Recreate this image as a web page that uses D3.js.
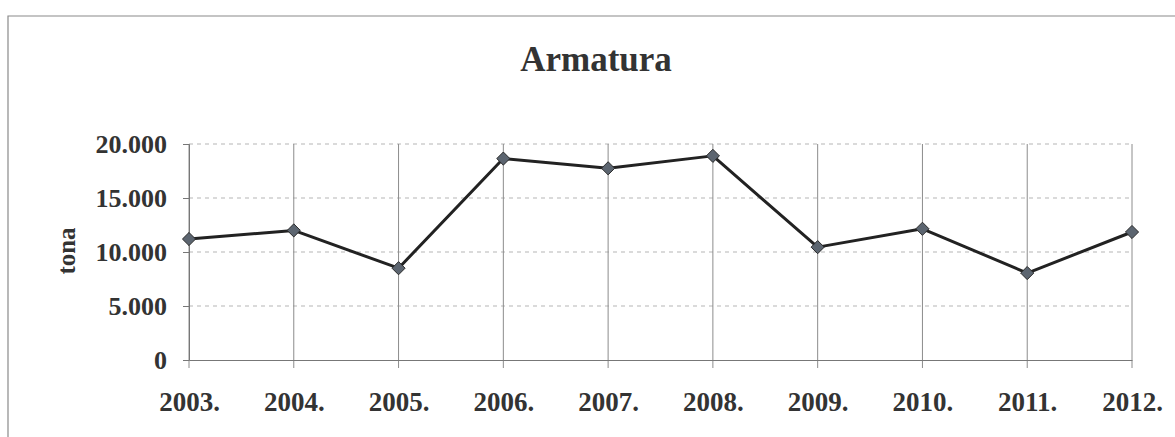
<!DOCTYPE html>
<html>
<head>
<meta charset="utf-8">
<script src="https://cdn.jsdelivr.net/npm/d3@7"></script>
<style>
  body { margin: 0; background: #fff; }
  svg { display: block; }
</style>
</head>
<body>
<svg id="chart"></svg>
<script>
// data
const years = ["2003.", "2004.", "2005.", "2006.", "2007.", "2008.", "2009.", "2010.", "2011.", "2012."];
const tonnes = [11200, 12000, 8500, 18650, 17750, 18900, 10450, 12150, 8050, 11850];
const yTicks = [0, 5000, 10000, 15000, 20000];

const width = 1175;
const height = 437;
const margin = { top: 144, right: 43, bottom: 77, left: 189 };
const font = "'Liberation Serif', 'Times New Roman', serif";

const svg = d3.select("#chart")
  .attr("width", width)
  .attr("height", height);

// frame of the chart area
svg.append("path")
  .attr("d", `M8,${height} V16 H${width}`)
  .attr("fill", "none")
  .attr("stroke", "#8a8a8a")
  .attr("stroke-width", 1.2);

const x = d3.scalePoint()
  .domain(years)
  .range([margin.left, width - margin.right]);

const y = d3.scaleLinear()
  .domain([0, 20000])
  .range([height - margin.bottom, margin.top]);

const fmt = d3.formatLocale({ decimal: ",", thousands: ".", grouping: [3], currency: ["", ""] }).format(",");

// horizontal dashed grid
svg.append("g")
  .selectAll("line")
  .data(yTicks.filter(d => d > 0))
  .join("line")
  .attr("x1", margin.left)
  .attr("x2", width - margin.right)
  .attr("y1", d => y(d))
  .attr("y2", d => y(d))
  .attr("stroke", "#b5b5b5")
  .attr("stroke-dasharray", "4,4");

// vertical grid lines, running a little below the axis like ticks
svg.append("g")
  .selectAll("line")
  .data(years)
  .join("line")
  .attr("x1", d => x(d))
  .attr("x2", d => x(d))
  .attr("y1", y(20000))
  .attr("y2", y(0) + 8)
  .attr("stroke", "#8c8c8c")
  .attr("stroke-width", 1);

// y axis
const yAxis = svg.append("g")
  .attr("transform", `translate(${margin.left},0)`)
  .call(d3.axisLeft(y).tickValues(yTicks).tickFormat(fmt).tickSize(6).tickPadding(16));
yAxis.select(".domain").attr("stroke", "#777");
yAxis.selectAll(".tick line").attr("stroke", "#777");
yAxis.selectAll("text")
  .attr("font-family", font)
  .attr("font-weight", "bold")
  .attr("font-size", 26)
  .attr("fill", "#333");

// x axis
const xAxis = svg.append("g")
  .attr("transform", `translate(0,${y(0)})`)
  .call(d3.axisBottom(x).tickSize(0).tickPadding(32));
xAxis.select(".domain").attr("stroke", "#777");
xAxis.selectAll("text")
  .attr("font-family", font)
  .attr("font-weight", "bold")
  .attr("font-size", 27)
  .attr("fill", "#333");

// series line
const line = d3.line()
  .x((d, i) => x(years[i]))
  .y(d => y(d));

svg.append("path")
  .datum(tonnes)
  .attr("d", line)
  .attr("fill", "none")
  .attr("stroke", "#222")
  .attr("stroke-width", 3)
  .attr("stroke-linejoin", "round");

// diamond markers
svg.append("g")
  .selectAll("path")
  .data(tonnes)
  .join("path")
  .attr("transform", (d, i) => `translate(${x(years[i])},${y(d)})`)
  .attr("d", d3.symbol(d3.symbolDiamond2, 110))
  .attr("fill", "#5c6570")
  .attr("stroke", "#2a2a2a")
  .attr("stroke-width", 1);

// title
svg.append("text")
  .attr("x", 596)
  .attr("y", 71)
  .attr("text-anchor", "middle")
  .attr("font-family", font)
  .attr("font-weight", "bold")
  .attr("font-size", 35)
  .attr("fill", "#333")
  .text("Armatura");

// y axis title
svg.append("text")
  .attr("transform", "translate(75,251) rotate(-90)")
  .attr("text-anchor", "middle")
  .attr("font-family", font)
  .attr("font-weight", "bold")
  .attr("font-size", 25)
  .attr("fill", "#333")
  .text("tona");
</script>
</body>
</html>
